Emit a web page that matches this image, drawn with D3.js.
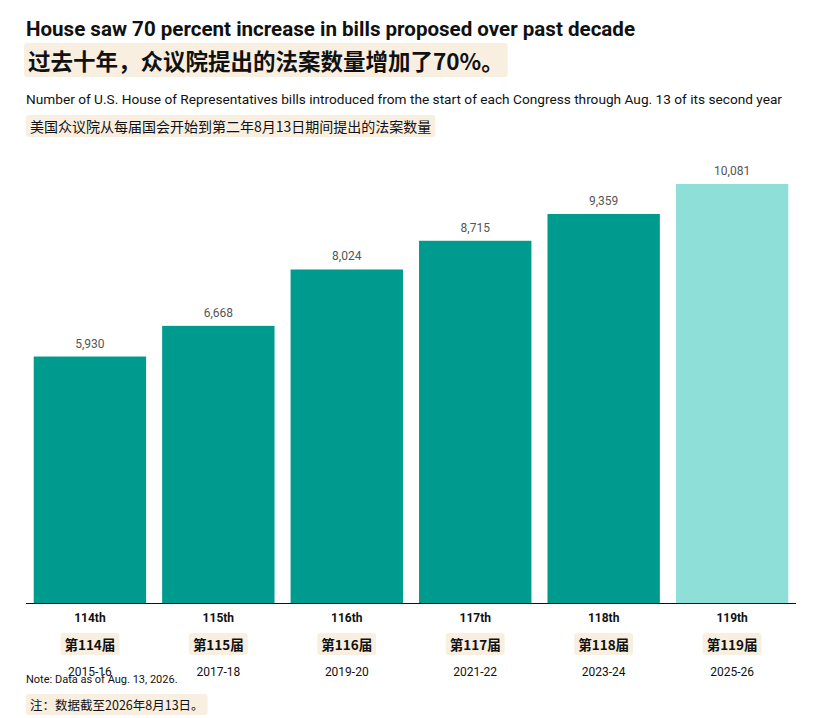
<!DOCTYPE html>
<html><head><meta charset="utf-8">
<script src="https://cdn.jsdelivr.net/npm/d3@7"></script>
<style>
body{margin:0;background:#fff}
text{font-family:"Roboto","DejaVu Sans",sans-serif}
.cn{font-family:"Noto Sans CJK SC",sans-serif}
</style></head><body>
<script>
const congresses = ["114th","115th","116th","117th","118th","119th"];
const congressesCn = ["第114届","第115届","第116届","第117届","第118届","第119届"];
const years = ["2015-16","2017-18","2019-20","2021-22","2023-24","2025-26"];
const bills = [5930, 6668, 8024, 8715, 9359, 10081];

const W = 825, H = 718;
const svg = d3.select("body").append("svg").attr("width", W).attr("height", H);

const x = d3.scaleBand().domain(congresses).range([26, 796]).paddingInner(0.125).paddingOuter(0.06);
const y = d3.scaleLinear().domain([0, 10081]).range([603, 184]);

function hl(txt, px, py, size, weight, cls, anchor) {
  const g = svg.append("g");
  const t = g.append("text").attr("x", px).attr("y", py).attr("class", cls)
    .attr("font-size", size).attr("font-weight", weight).attr("fill", "#111")
    .attr("text-anchor", anchor || "start").text(txt);
  const b = t.node().getBBox();
  g.insert("rect", "text").attr("x", b.x - 4).attr("y", b.y - 1)
    .attr("width", b.width + 8).attr("height", b.height + 2).attr("rx", 3).attr("fill", "#f8efe1");
}

svg.append("text").attr("x", 26).attr("y", 36).attr("font-size", 20).attr("font-weight", "bold")
  .attr("fill", "#111").attr("textLength", 609).attr("lengthAdjust", "spacingAndGlyphs")
  .text("House saw 70 percent increase in bills proposed over past decade");
hl("过去十年，众议院提出的法案数量增加了70%。", 28, 70, 22.5, "bold", "cn");
svg.append("text").attr("x", 26).attr("y", 104).attr("font-size", 13).attr("fill", "#111")
  .attr("textLength", 756).attr("lengthAdjust", "spacingAndGlyphs")
  .text("Number of U.S. House of Representatives bills introduced from the start of each Congress through Aug. 13 of its second year");
hl("美国众议院从每届国会开始到第二年8月13日期间提出的法案数量", 30, 132, 14, "normal", "cn");

svg.selectAll("rect.bar").data(bills).join("rect").attr("class", "bar")
  .attr("x", (d, i) => x(congresses[i])).attr("width", x.bandwidth())
  .attr("y", d => y(d)).attr("height", d => y(0) - y(d))
  .attr("fill", (d, i) => i === 5 ? "#8edfd8" : "#009b8f");

svg.selectAll("text.val").data(bills).join("text").attr("class", "val")
  .attr("x", (d, i) => x(congresses[i]) + x.bandwidth() / 2).attr("y", d => y(d) - 9)
  .attr("text-anchor", "middle").attr("font-size", 12).attr("fill", "#555")
  .text(d3.format(","));

svg.append("line").attr("x1", 26).attr("x2", 796).attr("y1", 603.5).attr("y2", 603.5).attr("stroke", "#111");

congresses.forEach((c, i) => {
  const cx = x(c) + x.bandwidth() / 2;
  svg.append("text").attr("x", cx).attr("y", 622).attr("text-anchor", "middle")
    .attr("font-size", 12).attr("font-weight", "bold").attr("fill", "#111").text(c);
  hl(congressesCn[i], cx, 650, 13.5, "bold", "cn", "middle");
  svg.append("text").attr("x", cx).attr("y", 676).attr("text-anchor", "middle")
    .attr("font-size", 12).attr("fill", "#111").text(years[i]);
});

svg.append("text").attr("x", 26).attr("y", 683).attr("font-size", 11).attr("fill", "#111")
  .text("Note: Data as of Aug. 13, 2026.");
hl("注：数据截至2026年8月13日。", 30, 710, 12.5, "normal", "cn");
</script></body></html>
